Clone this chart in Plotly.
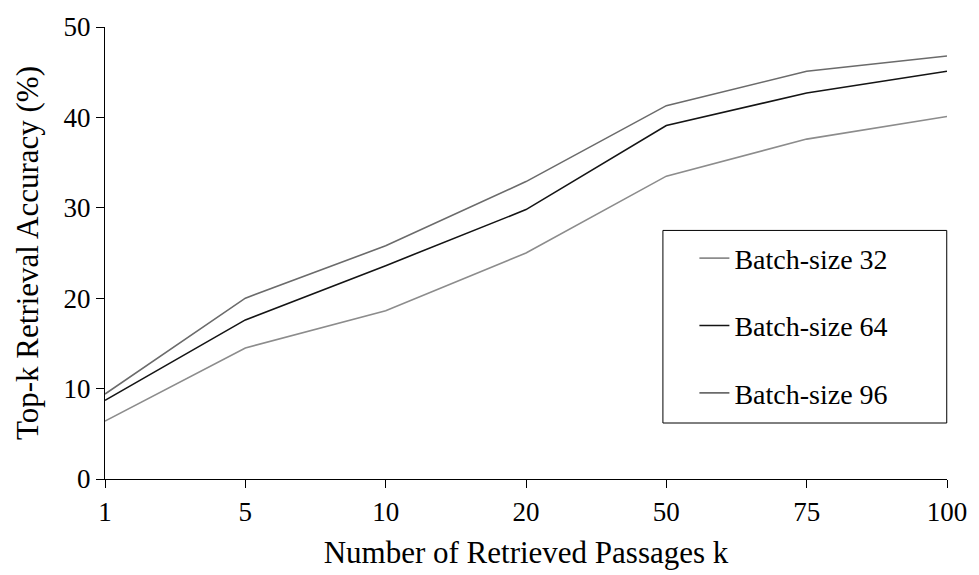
import plotly.graph_objects as go

k_labels = ["1", "5", "10", "20", "50", "75", "100"]
bs32 = [6.4, 14.5, 18.6, 25.0, 33.5, 37.6, 40.1]
bs64 = [8.7, 17.6, 23.6, 29.8, 39.1, 42.7, 45.1]
bs96 = [9.4, 20.0, 25.8, 32.9, 41.3, 45.1, 46.8]
series_names = ["Batch-size 32", "Batch-size 64", "Batch-size 96"]
series_colors = ["#8c8c8c", "#141414", "#6b6b6b"]

FONT = "Liberation Serif"

fig = go.Figure()
for i, (name, vals, col) in enumerate(zip(series_names, [bs32, bs64, bs96], series_colors)):
    fig.add_trace(go.Scatter(
        x=k_labels, y=vals, mode="lines", name=name,
        line=dict(color=col, width=1.6),
        legendgroup=f"g{i}",
    ))

# legend frame
fig.add_shape(type="rect", xref="paper", yref="paper",
              x0=0.6626, x1=0.9997, y0=(480.7-424)/457.7, y1=(480.7-229)/457.7,
              line=dict(color="#000000", width=1), fillcolor="rgba(0,0,0,0)", layer="above")

fig.update_layout(
    width=979, height=575,
    margin=dict(l=105, r=27, t=23, b=94),
    paper_bgcolor="white", plot_bgcolor="white",
    font=dict(family="DejaVu Serif", size=27, color="#000000"),
    showlegend=True,
    legend=dict(
        x=0.70, y=(480.7-232)/457.7, xanchor="left", yanchor="top",
        bgcolor="rgba(0,0,0,0)", borderwidth=0,
        font=dict(family=FONT, size=28, color="#000000"),
        tracegroupgap=28,
    ),
    xaxis=dict(
        type="category", range=[0, 6],
        showline=True, linecolor="#000000", linewidth=1.3,
        ticks="outside", ticklen=8, tickwidth=1.3, tickcolor="#000000",
        showgrid=False, zeroline=False,
        tickfont=dict(family=FONT, size=27, color="#000000"),
        title=dict(text="Number of Retrieved Passages k", font=dict(family=FONT, size=31, color="#000000")),
    ),
    yaxis=dict(
        range=[0, 50], dtick=10,
        showline=True, linecolor="#000000", linewidth=1.3,
        ticks="outside", ticklen=8, tickwidth=1.3, tickcolor="#000000",
        showgrid=False, zeroline=False,
        tickfont=dict(family=FONT, size=27, color="#000000"),
        title=dict(text="Top-k Retrieval Accuracy (%)", font=dict(family=FONT, size=31, color="#000000")),
    ),
)

fig.write_html("out.html")
